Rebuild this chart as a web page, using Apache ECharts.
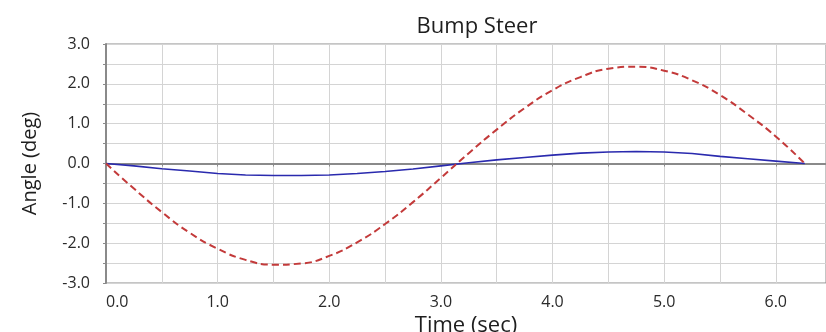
<!DOCTYPE html>
<html>
<head>
<meta charset="utf-8">
<script src="https://cdn.jsdelivr.net/npm/echarts@6/dist/echarts.min.js"></script>
<style>
  html, body { margin: 0; padding: 0; background: #fff; }
  #chart { width: 826px; height: 332px; }
</style>
</head>
<body>
<div id="chart"></div>
<script>
const time = [0, 0.25, 0.5, 0.75, 1.0, 1.25, 1.5, 1.75, 2.0, 2.25, 2.5, 2.75, 3.0,
  3.25, 3.5, 3.75, 4.0, 4.25, 4.5, 4.75, 5.0, 5.25, 5.5, 5.75, 6.0, 6.26];
const dashedAngle = [0, -0.63, -1.22, -1.74, -2.14, -2.42, -2.54, -2.51, -2.32, -1.98, -1.52, -0.97, -0.36,
  0.26, 0.85, 1.39, 1.84, 2.17, 2.38, 2.43, 2.33, 2.09, 1.72, 1.23, 0.68, 0];
const solidAngle = [0, -0.06, -0.13, -0.19, -0.25, -0.29, -0.30, -0.30, -0.29, -0.25, -0.20, -0.14, -0.06,
  0.02, 0.09, 0.15, 0.21, 0.26, 0.29, 0.30, 0.29, 0.25, 0.18, 0.12, 0.06, 0];

const font = "'Open Sans', 'Noto Sans', sans-serif";
const gridColor = "#d4d4d4";
const axisColor = "#8a8a8a";

const chart = echarts.init(document.getElementById("chart"));
const pairs = (ys) => time.map((t, i) => [t, ys[i]]);

chart.setOption({
  backgroundColor: "#fff",
  animation: false,
  title: {
    text: "Bump Steer",
    left: 472,
    top: 11,
    textAlign: "center",
    textStyle: { fontFamily: font, fontSize: 22, fontWeight: "normal", color: "#1e1e1e" },
  },
  grid: {
    left: 106,
    right: 0,
    top: 44,
    bottom: 49,
    containLabel: false,
    outerBoundsMode: "none",
    show: true,
    borderColor: axisColor,
    borderWidth: 1,
  },
  xAxis: {
    type: "value",
    min: 0,
    max: 6.45,
    interval: 1,
    name: "Time (sec)",
    nameLocation: "middle",
    nameGap: 27,
    nameTextStyle: { fontFamily: font, fontSize: 22, color: "#1e1e1e" },
    axisLine: { lineStyle: { color: axisColor, width: 2 } },
    axisTick: { show: true, length: 3, lineStyle: { color: axisColor } },
    minorTick: { show: true, splitNumber: 2, length: 3, lineStyle: { color: axisColor } },
    splitLine: { show: true, lineStyle: { color: gridColor, width: 1 } },
    minorSplitLine: { show: true, lineStyle: { color: gridColor, width: 1 } },
    axisLabel: {
      fontFamily: font,
      fontSize: 16,
      color: "#2a2a2a",
      margin: 11,
      showMaxLabel: false,
      alignMinLabel: "left",
      formatter: (v) => v.toFixed(1),
    },
  },
  yAxis: {
    type: "value",
    min: -3,
    max: 3,
    interval: 1,
    name: "Angle (deg)",
    nameLocation: "middle",
    nameGap: 66,
    nameTextStyle: { fontFamily: font, fontSize: 20, color: "#1e1e1e" },
    axisLine: { show: true, onZero: false, lineStyle: { color: axisColor, width: 2 } },
    axisTick: { show: true, length: 3, lineStyle: { color: axisColor } },
    minorTick: { show: true, splitNumber: 2, length: 3, lineStyle: { color: axisColor } },
    splitLine: { show: true, lineStyle: { color: gridColor, width: 1 } },
    minorSplitLine: { show: true, lineStyle: { color: gridColor, width: 1 } },
    axisLabel: {
      fontFamily: font,
      fontSize: 16,
      color: "#2a2a2a",
      margin: 16,
      formatter: (v) => v.toFixed(1),
    },
  },
  series: [
    {
      name: "solid",
      type: "line",
      data: pairs(solidAngle),
      showSymbol: false,
      smooth: false,
      lineStyle: { color: "#2a2aae", width: 1.6 },
      z: 3,
      markLine: {
        silent: true,
        symbol: "none",
        label: { show: false },
        lineStyle: { color: "#8a8a8a", width: 2, type: "solid" },
        data: [{ yAxis: 0 }],
        z: 1,
      },
    },
    {
      name: "dashed",
      type: "line",
      data: pairs(dashedAngle),
      showSymbol: false,
      smooth: true,
      lineStyle: { color: "#c33a3a", width: 2, type: [7, 4] },
      z: 4,
    },
  ],
});
</script>
</body>
</html>
